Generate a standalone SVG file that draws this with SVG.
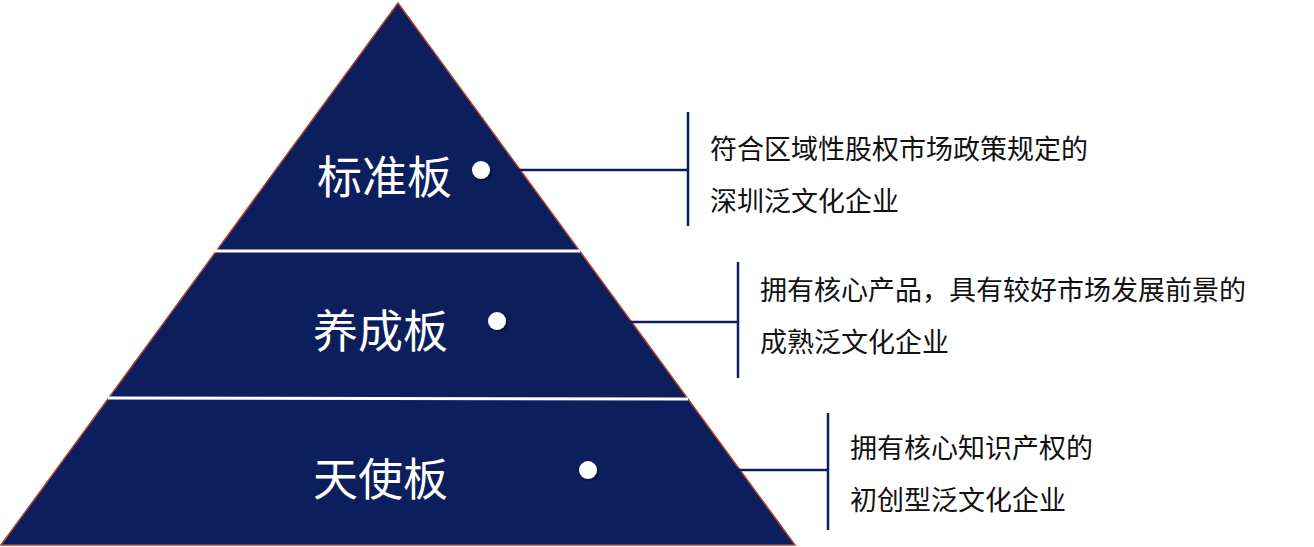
<svg xmlns="http://www.w3.org/2000/svg" width="1314" height="547" viewBox="0 0 1314 547">
<style>
.lbl{font-family:"Liberation Sans","Noto Sans CJK SC",sans-serif;font-size:45px;fill:#fff}
.desc{font-family:"Liberation Sans","Noto Sans CJK SC",sans-serif;font-size:27px;fill:#111}
.ln{stroke:#0d1f5e;stroke-width:2.5;fill:none}
.dot{fill:#fff}
</style>
<defs><filter id="sh"><feDropShadow dx="2" dy="2" stdDeviation="2" flood-opacity="0.5"/></filter></defs>
<g id="pyramid">
<polygon points="398,3 1,545 795,545" fill="#0c1f5c" stroke="#b0402e" stroke-width="1.5"/>
<line x1="215" y1="251" x2="580" y2="251" stroke="#fff" stroke-width="3"/>
<line x1="108" y1="398" x2="688" y2="399" stroke="#fff" stroke-width="3"/>
</g>
<g id="connectors">
<line class="ln" x1="481" y1="170" x2="688" y2="170"/>
<line class="ln" x1="688" y1="112" x2="688" y2="226"/>
<line class="ln" x1="497" y1="322" x2="738" y2="322"/>
<line class="ln" x1="738" y1="262" x2="738" y2="378"/>
<line class="ln" x1="588" y1="470" x2="828" y2="470"/>
<line class="ln" x1="828" y1="413" x2="828" y2="530"/>
</g>
<g id="n1"><text class="lbl" x="317" y="194">标准板</text><circle class="dot" cx="481" cy="170" r="9" filter="url(#sh)"/>
<text class="desc" x="710" y="159">符合区域性股权市场政策规定的</text><text class="desc" x="710" y="211">深圳泛文化企业</text></g>
<g id="n2"><text class="lbl" x="313" y="348">养成板</text><circle class="dot" cx="497" cy="321" r="9" filter="url(#sh)"/>
<text class="desc" x="760" y="300">拥有核心产品，具有较好市场发展前景的</text><text class="desc" x="760" y="352">成熟泛文化企业</text></g>
<g id="n3"><text class="lbl" x="313" y="496">天使板</text><circle class="dot" cx="588" cy="470" r="9" filter="url(#sh)"/>
<text class="desc" x="850" y="458">拥有核心知识产权的</text><text class="desc" x="850" y="510">初创型泛文化企业</text></g>
</svg>
